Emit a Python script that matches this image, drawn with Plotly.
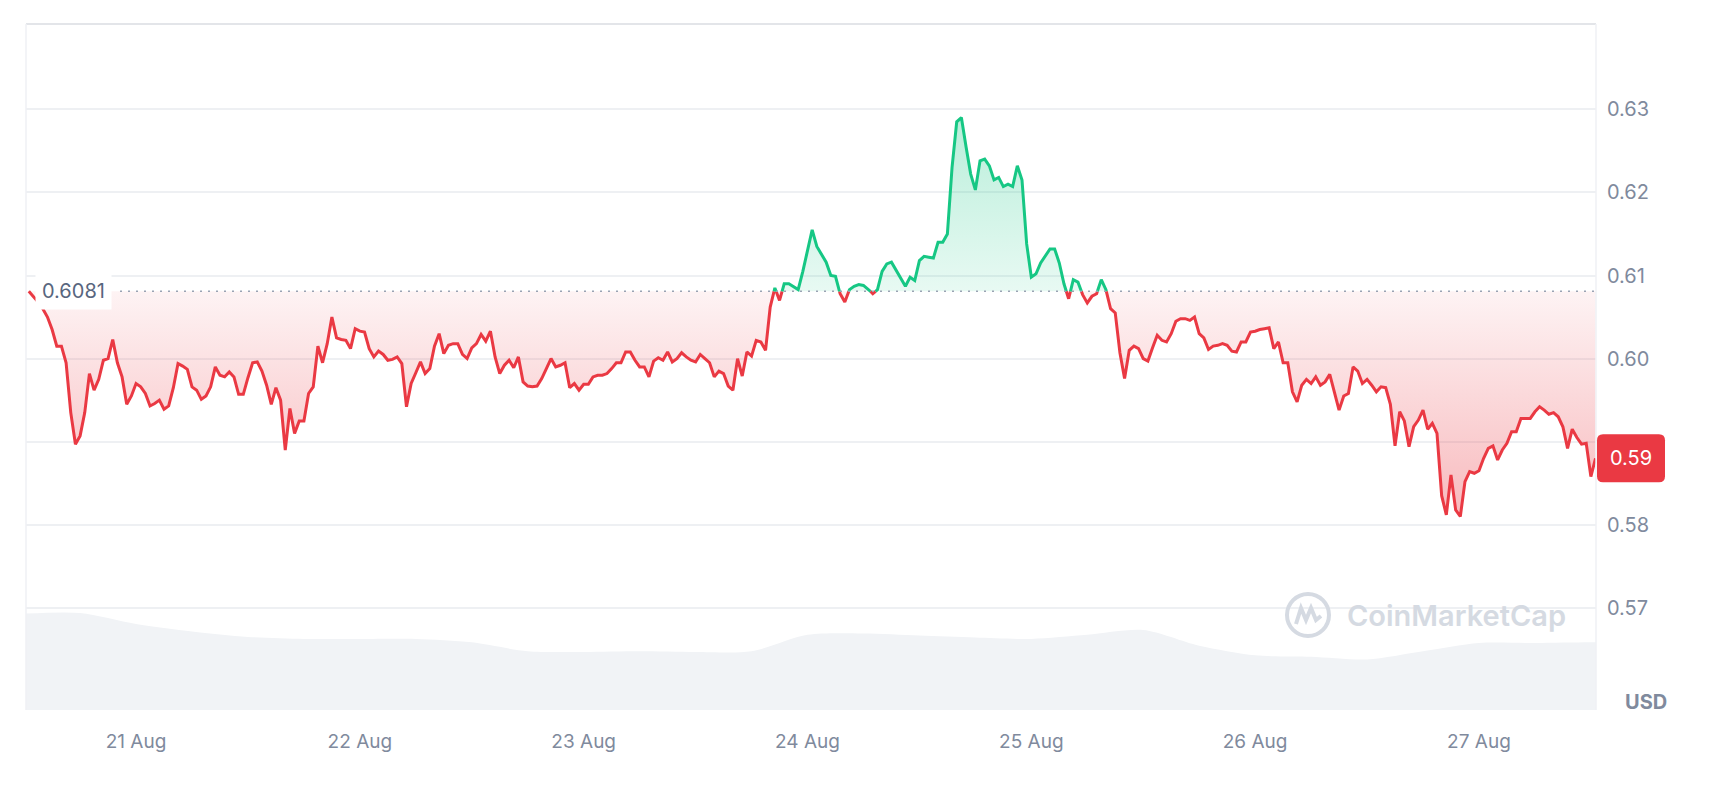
import numpy as np
import pandas as pd
import plotly.graph_objects as go

# ---------------- data ----------------
BASE = 0.6081                       # reference (open) price, dotted line
PRICE_START = "2024-08-20 12:30"    # first sample, 30-minute spacing
price = [
    0.6081, 0.6075, 0.6068, 0.6060, 0.6050, 0.6035, 0.6015, 0.6015, 0.5995, 0.5935,
    0.5897, 0.5907, 0.5935, 0.5982, 0.5962, 0.5975, 0.5998, 0.6000, 0.6023, 0.5995,
    0.5978, 0.5945, 0.5955, 0.5970, 0.5966, 0.5958, 0.5943, 0.5946, 0.5950, 0.5939,
    0.5943, 0.5965, 0.5994, 0.5991, 0.5987, 0.5966, 0.5962, 0.5951, 0.5955, 0.5966,
    0.5990, 0.5980, 0.5978, 0.5984, 0.5978, 0.5957, 0.5957, 0.5977, 0.5995, 0.5996,
    0.5985, 0.5968, 0.5945, 0.5965, 0.5950, 0.5890, 0.5940, 0.5910, 0.5925, 0.5925,
    0.5958, 0.5966, 0.6015, 0.5995, 0.6018, 0.6050, 0.6025, 0.6023, 0.6022, 0.6012,
    0.6036, 0.6033, 0.6032, 0.6012, 0.6002, 0.6009, 0.6005, 0.5998, 0.5999, 0.6002,
    0.5994, 0.5942, 0.5970, 0.5983, 0.5996, 0.5982, 0.5988, 0.6015, 0.6030, 0.6006,
    0.6016, 0.6018, 0.6018, 0.6005, 0.6000, 0.6013, 0.6018, 0.6029, 0.6021, 0.6033,
    0.6002, 0.5982, 0.5992, 0.5998, 0.5989, 0.6002, 0.5972, 0.5967, 0.5966, 0.5967,
    0.5976, 0.5988, 0.6000, 0.5990, 0.5992, 0.5995, 0.5965, 0.5970, 0.5962, 0.5969,
    0.5969, 0.5978, 0.5980, 0.5980, 0.5982, 0.5988, 0.5995, 0.5995, 0.6008, 0.6008,
    0.5998, 0.5990, 0.5990, 0.5978, 0.5997, 0.6001, 0.5998, 0.6008, 0.5996, 0.6000,
    0.6007, 0.6002, 0.5998, 0.5996, 0.6005, 0.6000, 0.5995, 0.5978, 0.5985, 0.5982,
    0.5967, 0.5962, 0.6000, 0.5979, 0.6008, 0.6003, 0.6022, 0.6020, 0.6010, 0.6062,
    0.6085, 0.6070, 0.6090, 0.6090, 0.6087, 0.6083, 0.6105, 0.6130, 0.6155, 0.6135,
    0.6125, 0.6116, 0.6100, 0.6099, 0.6078, 0.6068, 0.6083, 0.6087, 0.6089, 0.6088,
    0.6084, 0.6078, 0.6083, 0.6105, 0.6114, 0.6116, 0.6106, 0.6096, 0.6087, 0.6098,
    0.6094, 0.6118, 0.6123, 0.6122, 0.6121, 0.6140, 0.6140, 0.6150, 0.6230, 0.6285,
    0.6290, 0.6255, 0.6222, 0.6203, 0.6238, 0.6240, 0.6232, 0.6215, 0.6218, 0.6207,
    0.6210, 0.6207, 0.6232, 0.6215, 0.6138, 0.6098, 0.6102, 0.6115, 0.6123, 0.6132,
    0.6132, 0.6115, 0.6090, 0.6072, 0.6095, 0.6092, 0.6077, 0.6067, 0.6075, 0.6078,
    0.6095, 0.6083, 0.6060, 0.6055, 0.6007, 0.5976, 0.6010, 0.6015, 0.6012, 0.6000,
    0.5997, 0.6013, 0.6028, 0.6022, 0.6020, 0.6030, 0.6045, 0.6048, 0.6048, 0.6046,
    0.6050, 0.6030, 0.6025, 0.6011, 0.6015, 0.6016, 0.6018, 0.6016, 0.6009, 0.6008,
    0.6020, 0.6020, 0.6032, 0.6033, 0.6035, 0.6036, 0.6037, 0.6012, 0.6020, 0.5995,
    0.5995, 0.5960, 0.5948, 0.5968, 0.5975, 0.5970, 0.5978, 0.5968, 0.5972, 0.5981,
    0.5961, 0.5938, 0.5955, 0.5958, 0.5990, 0.5985, 0.5970, 0.5975, 0.5968, 0.5960,
    0.5966, 0.5965, 0.5945, 0.5895, 0.5936, 0.5925, 0.5894, 0.5918, 0.5926, 0.5938,
    0.5915, 0.5922, 0.5910, 0.5835, 0.5812, 0.5860, 0.5818, 0.5810, 0.5852, 0.5864,
    0.5862, 0.5865, 0.5880, 0.5892, 0.5895, 0.5878, 0.5890, 0.5898, 0.5912, 0.5912,
    0.5928, 0.5928, 0.5928, 0.5936, 0.5942, 0.5938, 0.5933, 0.5935, 0.5930, 0.5918,
    0.5892, 0.5915, 0.5905, 0.5897, 0.5898, 0.5858, 0.5880,
]

VOL_START = "2024-08-20 12:00"      # volume samples, 6-hour spacing (millions USD)
volume = [141, 142, 126, 115, 107, 104, 104, 104, 99, 86,
          85, 86, 85, 86, 110, 112, 109, 106, 104, 110,
          117, 94, 80, 78, 74, 86, 98, 98, 99, 99]

y_ticks = [0.57, 0.58, 0.59, 0.60, 0.61, 0.62, 0.63]
CURRENCY = "USD"

# ---------------- layout constants ----------------
W, H = 1714, 798
ML, MR, MT, MB = 26, 118, 24, 88
PW, PH = W - ML - MR, H - MT - MB
YMIN, YMAX = 0.557713, 0.640265
XMIN, XMAX = "2024-08-20 12:12", "2024-08-27 12:33"
RED, GREEN = "#ea3943", "#16c784"
GREY_TXT = "#808a9d"
FONT = "Inter, 'Noto Sans', sans-serif"

# ---------------- build geometry ----------------
t = pd.date_range(PRICE_START, periods=len(price), freq="30min")
tn = t.asi8.astype(float)
aug_t, aug_p = [], []
for i in range(len(price)):
    aug_t.append(tn[i]); aug_p.append(price[i])
    if i < len(price) - 1:
        a, b = price[i] - BASE, price[i + 1] - BASE
        if a * b < 0:
            f = a / (a - b)
            aug_t.append(tn[i] + f * (tn[i + 1] - tn[i])); aug_p.append(BASE)
aug_dt = list(pd.to_datetime(np.round(aug_t).astype("int64")))
aug_p = np.array(aug_p)

segs = {"r": ([], []), "g": ([], [])}
last = {"r": None, "g": None}
for k in range(len(aug_p) - 1):
    c = "g" if (aug_p[k] + aug_p[k + 1]) / 2 >= BASE else "r"
    xs, ys = segs[c]
    if last[c] != k:
        if xs:
            xs.append(None); ys.append(None)
        xs.append(aug_dt[k]); ys.append(aug_p[k])
    xs.append(aug_dt[k + 1]); ys.append(aug_p[k + 1])
    last[c] = k + 1

vt = pd.date_range(VOL_START, periods=len(volume), freq="6h")

fig = go.Figure()

# volume area (bottom band)
fig.add_trace(go.Scatter(x=vt, y=volume, yaxis="y2", mode="lines",
                         line=dict(width=0, shape="spline", smoothing=0.8),
                         fill="tozeroy", fillcolor="#f1f3f6", hoverinfo="skip",
                         showlegend=False))

base_arr = [BASE] * len(aug_p)
fig.add_trace(go.Scatter(x=aug_dt, y=base_arr, mode="lines", line=dict(width=0),
                         hoverinfo="skip", showlegend=False))
fig.add_trace(go.Scatter(x=aug_dt, y=np.minimum(aug_p, BASE), mode="lines",
                         line=dict(width=0), fill="tonexty",
                         fillgradient=dict(type="vertical",
                                           colorscale=[[0, "rgba(234,57,67,0.36)"],
                                                       [1, "rgba(234,57,67,0.06)"]],
                                           start=0.580, stop=BASE),
                         hoverinfo="skip", showlegend=False))
fig.add_trace(go.Scatter(x=aug_dt, y=base_arr, mode="lines", line=dict(width=0),
                         hoverinfo="skip", showlegend=False))
fig.add_trace(go.Scatter(x=aug_dt, y=np.maximum(aug_p, BASE), mode="lines",
                         line=dict(width=0), fill="tonexty",
                         fillgradient=dict(type="vertical",
                                           colorscale=[[0, "rgba(22,199,132,0.10)"],
                                                       [1, "rgba(22,199,132,0.30)"]],
                                           start=BASE, stop=0.629),
                         hoverinfo="skip", showlegend=False))

fig.add_trace(go.Scatter(x=segs["r"][0], y=segs["r"][1], mode="lines",
                         line=dict(color=RED, width=3), hoverinfo="skip",
                         showlegend=False))
fig.add_trace(go.Scatter(x=segs["g"][0], y=segs["g"][1], mode="lines",
                         line=dict(color=GREEN, width=3), hoverinfo="skip",
                         showlegend=False))

# ---------------- shapes ----------------
shapes = []
# dotted reference line
shapes.append(dict(type="line", xref="paper", yref="y", x0=(120 - ML) / PW, x1=1,
                   y0=BASE, y1=BASE, line=dict(color="#9aa3b3", width=1.6, dash="2px,6px"),
                   layer="above"))
# frame
shapes.append(dict(type="line", xref="paper", yref="paper", x0=0, x1=1, y0=1, y1=1,
                   line=dict(color="#e3e5e9", width=2)))
shapes.append(dict(type="line", xref="paper", yref="paper", x0=0, x1=0, y0=0, y1=1,
                   line=dict(color="#eff1f4", width=1.5)))
shapes.append(dict(type="line", xref="paper", yref="paper", x0=1, x1=1, y0=0, y1=1,
                   line=dict(color="#eff1f4", width=1.5)))

# current price tag (rounded rectangle)
last_p = price[-1]
yc = (last_p - YMIN) / (YMAX - YMIN)
hh = 24 / PH
x0, x1 = (1597 - ML) / PW, (1665 - ML) / PW
rx, ry = 6 / PW, 6 / PH
y0, y1 = yc - hh, yc + hh
path = (f"M {x0+rx},{y1} L {x1-rx},{y1} Q {x1},{y1} {x1},{y1-ry} L {x1},{y0+ry} "
        f"Q {x1},{y0} {x1-rx},{y0} L {x0+rx},{y0} Q {x0},{y0} {x0},{y0+ry} "
        f"L {x0},{y1-ry} Q {x0},{y1} {x0+rx},{y1} Z")
shapes.append(dict(type="path", xref="paper", yref="paper", path=path,
                   fillcolor=RED, line=dict(width=0), layer="above"))

# watermark logo
lx, ly = (1308 - ML) / PW, (710 - 615) / PH
shapes.append(dict(type="circle", xref="paper", yref="paper", xsizemode="pixel",
                   ysizemode="pixel", xanchor=lx, yanchor=ly, x0=-21, x1=21, y0=-21, y1=21,
                   line=dict(color="#d5dae2", width=4)))
shapes.append(dict(type="path", xref="paper", yref="paper", xsizemode="pixel",
                   ysizemode="pixel", xanchor=lx, yanchor=ly,
                   path="M -12,-9 L -7,7 L -2,-5 L 3,7 L 8,-5 L 13,-1",
                   line=dict(color="#d5dae2", width=4)))

fig.update_layout(shapes=shapes)

# ---------------- annotations ----------------
fig.add_annotation(xref="paper", yref="y", x=(35 - ML) / PW, y=BASE, xanchor="left",
                   yanchor="middle", text=f"{BASE:.4f}", showarrow=False,
                   bgcolor="white", borderpad=6,
                   font=dict(family=FONT, size=20, color="#58667e"))
fig.add_annotation(xref="paper", yref="y", x=(1631 - ML) / PW, y=last_p, xanchor="center",
                   yanchor="middle", text=f"{last_p:.2f}", showarrow=False,
                   font=dict(family=FONT, size=20, color="white"))
fig.add_annotation(xref="paper", yref="paper", x=(1646 - ML) / PW, y=(710 - 702) / PH,
                   xanchor="center", yanchor="middle", text=CURRENCY, showarrow=False,
                   font=dict(family=FONT, size=20, color=GREY_TXT, weight=700))
fig.add_annotation(xref="paper", yref="paper", x=(1345 - ML) / PW, y=ly, xanchor="left",
                   yanchor="middle", text="CoinMarketCap", showarrow=False,
                   font=dict(family=FONT, size=29, color="#d5dae2", weight=600))

# tick labels hidden where the price tag covers them
y_ticktext = ["" if abs(v - last_p) < 0.003 else f"{v:.2f}" for v in y_ticks]

fig.update_layout(
    width=W, height=H,
    margin=dict(l=ML, r=MR, t=MT, b=MB),
    paper_bgcolor="white", plot_bgcolor="white",
    font=dict(family=FONT, color=GREY_TXT),
    showlegend=False, hovermode=False,
    xaxis=dict(range=[XMIN, XMAX], type="date", showgrid=False, zeroline=False,
               showline=False, ticks="", tick0="2024-08-21", dtick=86400000,
               tickformat="%-d %b", tickfont=dict(size=19, color=GREY_TXT),
               ticklabelstandoff=18),
    yaxis=dict(range=[YMIN, YMAX], side="right", tickvals=y_ticks,
               ticktext=y_ticktext, showgrid=True,
               gridcolor="#eef0f3", gridwidth=1.5, zeroline=False, showline=False,
               ticks="", tickfont=dict(size=20, color=GREY_TXT), ticklabelstandoff=10),
    yaxis2=dict(range=[0, 1004], overlaying="y", visible=False, showgrid=False),
)

fig.write_html("out.html")
